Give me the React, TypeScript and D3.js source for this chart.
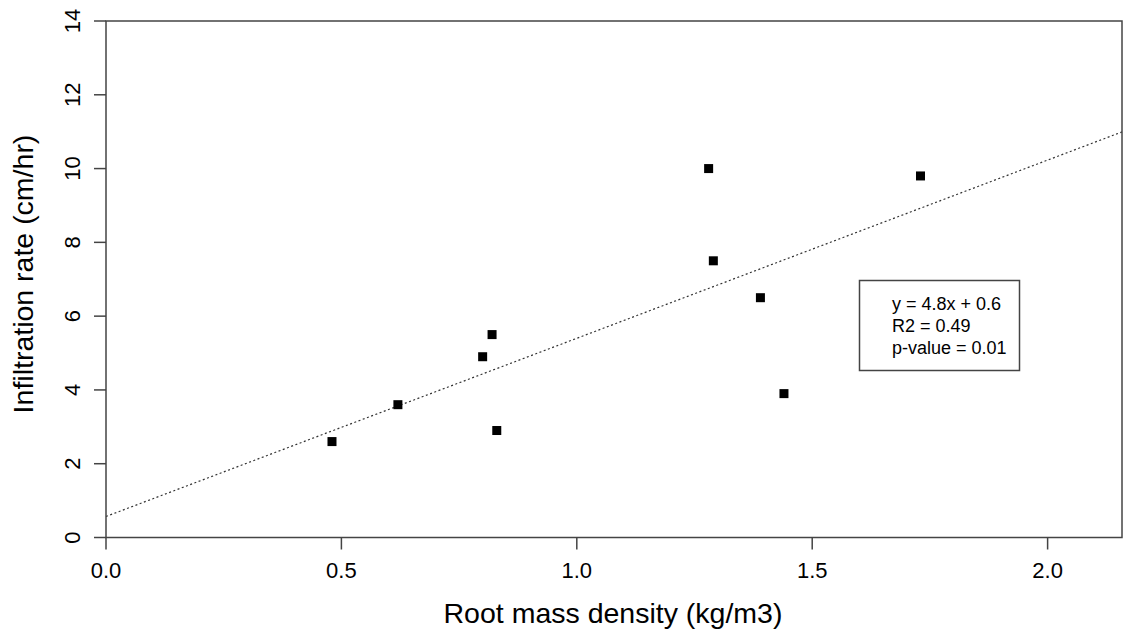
import React from "react";
import * as d3 from "d3";

const rootDensity = [0.48, 0.62, 0.8, 0.82, 0.83, 1.28, 1.29, 1.39, 1.44, 1.73];
const infiltration = [2.6, 3.6, 4.9, 5.5, 2.9, 10.0, 7.5, 6.5, 3.9, 9.8];
const fitSlope = 4.83;
const fitIntercept = 0.57;
const xTicks = [0, 0.5, 1.0, 1.5, 2.0];
const yTicks = [0, 2, 4, 6, 8, 10, 12, 14];
const statsLines = ["y = 4.8x + 0.6", "R2 = 0.49", "p-value = 0.01"];

const W = 1123;
const H = 634;
const left = 106;
const right = 1122;
const top = 21;
const bottom = 537.5;
const font = "'Liberation Sans', Arial, sans-serif";
const axisColor = "#444";

export default function App() {
  const x = d3.scaleLinear().domain([0, 2.158]).range([left, right]);
  const y = d3.scaleLinear().domain([0, 14]).range([bottom, top]);
  const xd = x.domain();
  const line = d3
    .line<number>()
    .x((v) => x(v))
    .y((v) => y(fitSlope * v + fitIntercept));
  const sq = 9;

  return (
    <div style={{ position: "fixed", left: 0, top: 0, background: "#fff" }}>
      <svg width={W} height={H} style={{ display: "block" }}>
        <rect x={0} y={0} width={W} height={H} fill="#fff" />
        <path
          d={line([xd[0], xd[1]]) || ""}
          fill="none"
          stroke="#333"
          strokeWidth={1.2}
          strokeDasharray="2,2.5"
        />
        {rootDensity.map((v, i) => (
          <rect
            key={i}
            x={x(v) - sq / 2}
            y={y(infiltration[i]) - sq / 2}
            width={sq}
            height={sq}
            fill="#000"
          />
        ))}
        <rect
          x={left}
          y={top}
          width={right - left}
          height={bottom - top}
          fill="none"
          stroke={axisColor}
          strokeWidth={1.5}
        />
        {xTicks.map((t) => (
          <g key={"x" + t}>
            <line x1={x(t)} x2={x(t)} y1={bottom} y2={bottom + 12} stroke={axisColor} strokeWidth={1.5} />
            <text
              x={x(t)}
              y={578}
              textAnchor="middle"
              fontFamily={font}
              fontSize={22}
              fill="#000"
            >
              {d3.format(".1f")(t)}
            </text>
          </g>
        ))}
        {yTicks.map((t) => (
          <g key={"y" + t}>
            <line x1={left - 12} x2={left} y1={y(t)} y2={y(t)} stroke={axisColor} strokeWidth={1.5} />
            <text
              transform={`translate(80,${y(t)}) rotate(-90)`}
              textAnchor="middle"
              fontFamily={font}
              fontSize={22}
              fill="#000"
            >
              {t}
            </text>
          </g>
        ))}
        <text x={613} y={623} textAnchor="middle" fontFamily={font} fontSize={28.5} fill="#000">
          Root mass density (kg/m3)
        </text>
        <text
          transform={`translate(33,274) rotate(-90)`}
          textAnchor="middle"
          fontFamily={font}
          fontSize={28.5}
          fill="#000"
        >
          Infiltration rate (cm/hr)
        </text>
        <rect x={859.5} y={280.5} width={160} height={90} fill="#fff" stroke={axisColor} strokeWidth={1.5} />
        {statsLines.map((s, i) => (
          <text key={s} x={892} y={310 + i * 22} fontFamily={font} fontSize={18} fill="#000">
            {s}
          </text>
        ))}
      </svg>
    </div>
  );
}
